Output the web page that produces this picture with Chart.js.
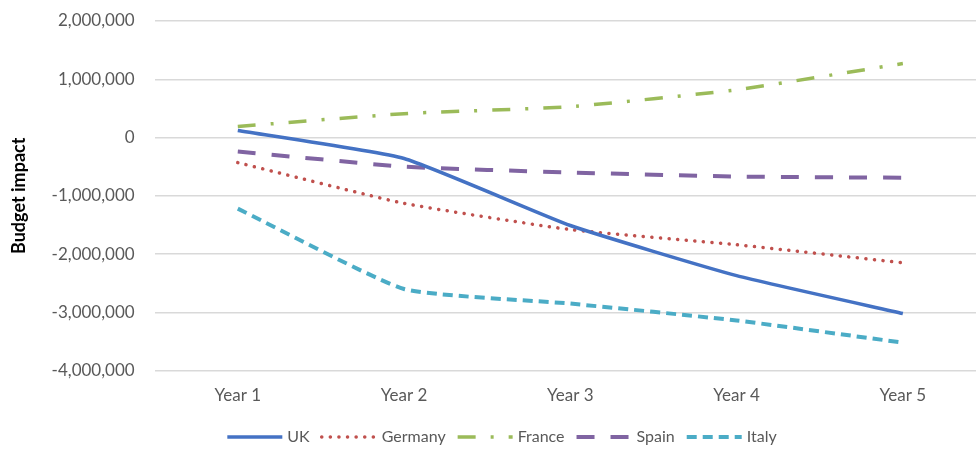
<!DOCTYPE html>
<html>
<head>
<meta charset="utf-8">
<script src="https://cdn.jsdelivr.net/npm/chart.js@4.4.1/dist/chart.umd.min.js"></script>
<style>
  html, body { margin: 0; padding: 0; background: #fff; overflow: hidden; }
  #wrap { width: 976px; height: 450px; overflow: hidden; }
</style>
</head>
<body>
<div id="wrap"><canvas id="budgetChart" width="1000" height="450"></canvas></div>
<script>
const years = ['Year 1', 'Year 2', 'Year 3', 'Year 4', 'Year 5'];
const uk = [120000, -360000, -1510000, -2370000, -3020000];
const germany = [-430000, -1130000, -1580000, -1840000, -2150000];
const france = [190000, 410000, 530000, 820000, 1270000];
const spain = [-240000, -500000, -600000, -670000, -690000];
const italy = [-1220000, -2600000, -2850000, -3140000, -3520000];
const yTicks = [2000000, 1000000, 0, -1000000, -2000000, -3000000, -4000000];

const font = 'Lato, "Open Sans", sans-serif';

function series(label, data, color, dash, width, cap) {
  return {
    label, data,
    borderColor: color, backgroundColor: color,
    borderDash: dash, borderWidth: width, borderCapStyle: cap || 'butt',
    pointRadius: 0, pointHoverRadius: 0,
    tension: 0.15, fill: false
  };
}

// bottom legend drawn by hand so each sample keeps its series' dash pattern
const lineLegend = {
  id: 'lineLegend',
  afterDraw(chart, args, opts) {
    const ctx = chart.ctx;
    const sets = chart.data.datasets;
    ctx.save();
    ctx.font = `${opts.size}px ${font}`;
    const widths = sets.map((ds) => ctx.measureText(ds.label).width);
    const total = widths.reduce((a, w) => a + opts.sample + opts.gap + w, 0) + opts.spacing * (sets.length - 1);
    let x = opts.centerX - total / 2;
    const y = opts.y;
    sets.forEach((ds, i) => {
      ctx.strokeStyle = ds.borderColor;
      ctx.lineWidth = ds.borderWidth;
      ctx.lineCap = ds.borderCapStyle;
      ctx.setLineDash(ds.borderDash);
      ctx.beginPath();
      ctx.moveTo(x, y);
      ctx.lineTo(x + opts.sample, y);
      ctx.stroke();
      x += opts.sample + opts.gap;
      ctx.fillStyle = '#595959';
      ctx.textBaseline = 'middle';
      ctx.textAlign = 'left';
      ctx.fillText(ds.label, x, y);
      x += widths[i] + opts.spacing;
    });
    ctx.restore();
  }
};

new Chart(document.getElementById('budgetChart'), {
  type: 'line',
  data: {
    labels: years,
    datasets: [
      series('UK', uk, '#4472C4', [], 3.5),
      series('Germany', germany, '#C0504D', [0.1, 8.5], 3.5, 'round'),
      series('France', france, '#9BBB59', [18, 15, 3, 15], 3.5),
      series('Spain', spain, '#8064A2', [18, 16], 4),
      series('Italy', italy, '#4BACC6', [10, 6], 4)
    ]
  },
  plugins: [lineLegend],
  options: {
    responsive: false,
    animation: false,
    layout: { padding: { left: 4, right: 14, top: 0, bottom: 37 } },
    plugins: {
      tooltip: { enabled: false },
      legend: { display: false },
      lineLegend: { centerX: 502, y: 437, sample: 55, gap: 5, spacing: 12, size: 16 }
    },
    scales: {
      x: {
        offset: true,
        grid: { display: false },
        border: { display: false },
        ticks: { color: '#595959', font: { family: font, size: 17 }, padding: 7 }
      },
      y: {
        min: -4000000, max: 2000000,
        afterBuildTicks: (axis) => { axis.ticks = yTicks.map((v) => ({ value: v })); },
        afterFit: (scale) => { scale.paddingTop = 21; },
        grid: { color: '#d9d9d9', lineWidth: 1.5, drawTicks: false },
        border: { display: false },
        ticks: {
          color: '#595959', padding: 20,
          font: { family: font, size: 17 },
          callback: (v) => v.toLocaleString('en-US')
        },
        title: {
          display: true, text: 'Budget impact', color: '#000',
          font: { family: font, size: 18, weight: 'bold' }, padding: { bottom: 2 }
        }
      }
    }
  }
});
</script>
</body>
</html>
